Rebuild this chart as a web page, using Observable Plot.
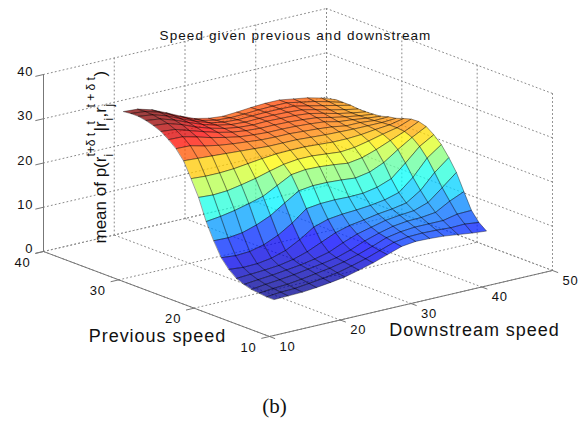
<!DOCTYPE html>
<html>
<head>
<meta charset="utf-8">
<script src="https://cdn.jsdelivr.net/npm/d3@7"></script>
<script src="https://cdn.jsdelivr.net/npm/@observablehq/plot@0.6"></script>
<style>
html,body{margin:0;padding:0;background:#fff}
svg{display:block}
.wide text{letter-spacing:.95px}
.tick text{letter-spacing:.9px}
.title text{letter-spacing:1.1px}
</style>
</head>
<body>
<div id="chart"></div>
<script>
// Grid of the surface
const prevSpeeds = [35,34,33,32,31,30,29,28,27,26,25,24,23,22,21,20,19,18,17,16,15];
const downSpeeds = [16,18,20,22,24,26,28,30,32,34,36,38,40,42,44,46];
// Mean speed: one array per downstream speed, listed along prevSpeeds
const zDown16 = [32.6,32.8,32.8,32.5,32.0,31.3,30.1,28.7,26.6,23.2,19.6,14.8,11.1,7.9,5.9,4.5,3.8,3.3,3.1,2.9,2.9];
const zDown18 = [32.4,32.5,32.4,32.1,31.7,31.0,30.0,28.6,26.4,23.0,19.4,15.2,11.0,7.6,5.6,4.7,4.1,3.7,3.4,3.2,3.0];
const zDown20 = [31.5,31.6,31.4,31.1,30.7,30.0,29.2,27.8,26.2,23.0,19.6,15.8,11.4,7.8,5.7,4.9,4.4,4.0,3.6,3.3,3.1];
const zDown22 = [30.1,30.1,30.0,29.8,29.4,29.0,28.3,27.2,26.0,23.2,20.2,16.6,12.4,8.6,6.2,5.2,4.8,4.4,4.0,3.7,3.4];
const zDown24 = [28.6,28.7,28.7,28.6,28.4,28.1,27.6,26.8,25.8,23.6,20.9,17.5,13.8,10.0,7.2,5.8,5.2,4.9,4.5,4.1,3.8];
const zDown26 = [27.3,27.5,27.6,27.7,27.6,27.4,27.0,26.5,25.6,24.0,21.8,19.2,15.9,12.0,8.9,6.8,5.8,5.4,5.0,4.6,4.3];
const zDown28 = [26.6,26.8,27.0,27.1,27.1,27.0,26.7,26.2,25.4,24.3,22.6,20.9,17.9,14.5,11.0,8.2,6.6,6.0,5.7,5.4,5.1];
const zDown30 = [26.3,26.6,26.8,26.9,26.9,26.8,26.5,26.1,25.4,24.4,23.0,21.3,18.3,14.9,12.0,9.6,8.0,7.0,6.6,6.3,6.0];
const zDown32 = [26.5,26.7,26.9,27.0,27.0,26.8,26.5,26.1,25.4,24.4,23.0,21.2,18.3,15.0,12.4,10.5,9.2,8.3,7.7,7.4,7.1];
const zDown34 = [26.8,26.9,27.0,27.0,26.9,26.7,26.4,25.9,25.2,24.2,22.7,20.9,18.1,14.9,12.6,11.0,10.0,9.3,8.9,8.5,8.2];
const zDown36 = [27.0,27.0,27.0,26.9,26.8,26.5,26.2,25.7,25.0,24.0,22.4,20.5,17.8,15.0,12.9,11.6,10.8,10.1,9.5,9.0,8.6];
const zDown38 = [27.0,27.0,26.9,26.7,26.5,26.2,25.9,25.4,24.9,24.0,22.7,21.0,18.4,15.6,13.4,12.0,11.2,10.5,9.8,9.1,8.5];
const zDown40 = [26.5,26.4,26.2,26.0,25.8,25.5,25.2,24.9,24.8,24.2,23.4,22.1,19.8,16.8,14.3,12.6,11.5,10.6,9.8,9.0,8.3];
const zDown42 = [26.0,25.8,25.5,25.2,25.0,24.9,24.9,24.9,24.8,24.6,24.2,23.4,22.0,19.6,17.0,14.7,12.6,11.0,9.8,8.8,7.9];
const zDown44 = [25.2,25.0,24.8,24.5,24.4,24.4,24.5,24.6,24.8,24.9,24.9,24.7,24.0,22.6,20.6,18.0,15.2,12.8,10.5,8.9,7.5];
const zDown46 = [24.1,24.1,24.1,23.9,23.9,24.0,24.2,24.7,25.0,25.6,26.1,26.2,25.7,24.5,22.9,20.6,17.9,14.2,10.6,8.5,7.2];
const zColumns = [zDown16,zDown18,zDown20,zDown22,zDown24,zDown26,zDown28,zDown30,zDown32,zDown34,zDown36,zDown38,zDown40,zDown42,zDown44,zDown46];

// Axes
const downTicks = [10,20,30,40,50];
const prevTicks = [10,20,30,40];
const zTicks = [0,10,20,30,40];
const downRange = [10,50], prevRange = [10,40], zRange = [0,40];

// Orthographic view of the box: screen position of its corners and height
const view = {x0:43, y0:251, xDown:283, yDown:-66, xPrev:226, yPrev:85, yZ:-177};
function project(down, prev, z) {
  const u = (down-downRange[0])/(downRange[1]-downRange[0]);
  const v = (prevRange[1]-prev)/(prevRange[1]-prevRange[0]);
  const w = (z-zRange[0])/(zRange[1]-zRange[0]);
  return {x:view.x0+view.xDown*u+view.xPrev*v, y:view.y0+view.yDown*u+view.yPrev*v+view.yZ*w};
}
const seg = (id,a,b) => [{id,...project(...a)},{id,...project(...b)}];

// Dotted grid on the floor and two back walls
const [d0,d1]=downRange,[p0,p1]=prevRange,[z0,z1]=zRange;
let grid = [];
downTicks.forEach(d=>{
  grid.push(...seg("fd"+d,[d,p0,z0],[d,p1,z0]));
  grid.push(...seg("wd"+d,[d,p1,z0],[d,p1,z1]));
});
prevTicks.forEach(p=>{
  grid.push(...seg("fp"+p,[d0,p,z0],[d1,p,z0]));
  grid.push(...seg("wp"+p,[d1,p,z0],[d1,p,z1]));
});
zTicks.forEach(z=>{
  grid.push(...seg("zb"+z,[d0,p1,z],[d1,p1,z]));
  grid.push(...seg("zr"+z,[d1,p1,z],[d1,p0,z]));
});

// Solid axes and ticks
let axes = [
  ...seg("a1",[d0,p1,z0],[d0,p0,z0]),
  ...seg("a2",[d0,p0,z0],[d1,p0,z0]),
  ...seg("a3",[d0,p1,z0],[d0,p1,z1])
];
zTicks.forEach(z=>axes.push(...seg("tz"+z,[d0,p1,z],[d0-1.1,p1,z])));
prevTicks.forEach(p=>axes.push(...seg("tp"+p,[d0,p,z0],[d0-1.1,p,z0])));
downTicks.forEach(d=>axes.push(...seg("td"+d,[d,p0,z0],[d,p0-0.7,z0])));

// Surface cells, back to front; each cell takes the colour of its low-prev, low-down vertex
let cells = [];
prevSpeeds.slice(0,-1).forEach((prev,i)=>{
  for (let j=downSpeeds.length-2;j>=0;j--) {
    const id = i+"_"+j;
    const c = zColumns[j][i+1];
    [[i,j],[i,j+1],[i+1,j+1],[i+1,j]].forEach(([a,b])=>{
      cells.push({id,c,...project(downSpeeds[b],prevSpeeds[a],zColumns[b][a])});
    });
  }
});
const zExtent = d3.extent(zColumns.flat());
const jetStops = [0,1/8,3/8,5/8,7/8,1];
const jetColors = ["#000090","#0000ff","#00ffff","#ffff00","#ff0000","#800000"];

// Y-axis label pieces, reading upward
const sans = "Liberation Sans, Arial, Helvetica, sans-serif";
const yLabelMain = [
  {t:"mean of p(r", x:105, y:243},
  {t:"|r", x:105, y:131},
  {t:",r", x:105, y:117},
  {t:")", x:105, y:76}
];
const yLabelSmall = [
  {t:"t+δ t", x:94, y:156},
  {t:"t", x:94, y:124},
  {t:"t + δ t", x:94, y:107},
  {t:"i", x:112, y:156},
  {t:"i", x:112, y:120},
  {t:"j", x:112, y:106}
];

const tickLabel = (data,opts)=>Plot.text(data,{fontFamily:sans,fontSize:13,className:"tick",fill:"#111",...opts});

const plot = Plot.plot({
  width:583, height:422,
  marginTop:0, marginRight:0, marginBottom:0, marginLeft:0,
  x:{domain:[0,583], axis:null},
  y:{domain:[422,0], axis:null},
  color:{type:"linear", domain:jetStops.map(t=>zExtent[0]+t*(zExtent[1]-zExtent[0])), range:jetColors, interpolate:"rgb", legend:false},
  marks:[
    Plot.line(grid,{x:"x",y:"y",z:"id",stroke:"#8a8a8a",strokeWidth:1,strokeDasharray:"1 3"}),
    Plot.line(axes,{x:"x",y:"y",z:"id",stroke:"#777",strokeWidth:1}),
    Plot.line(cells,{x:"x",y:"y",z:"id",fill:"c",curve:"linear-closed",fillOpacity:0.75,stroke:"#000",strokeOpacity:0.55,strokeWidth:0.7}),
    tickLabel(zTicks,{x:z=>project(d0,p1,z).x,y:z=>project(d0,p1,z).y,text:String,dx:-10,dy:-2.5,textAnchor:"end"}),
    tickLabel(prevTicks,{x:p=>project(d0,p,z0).x,y:p=>project(d0,p,z0).y,text:String,dx:-21,dy:11}),
    tickLabel(downTicks,{x:d=>project(d,p0,z0).x,y:d=>project(d,p0,z0).y,text:String,dx:18,dy:10}),
    Plot.text(["Speed given previous and downstream"],{x:()=>295,y:()=>35,text:String,fontFamily:sans,fontSize:13.5,className:"title",fill:"#111"}),
    Plot.text(["Previous speed"],{x:()=>157,y:()=>336,text:String,fontFamily:sans,fontSize:18,className:"wide",fill:"#111"}),
    Plot.text(["Downstream speed"],{x:()=>474,y:()=>330,text:String,fontFamily:sans,fontSize:18,className:"wide",fill:"#111"}),
    Plot.text(yLabelMain,{x:"x",y:"y",text:"t",rotate:-90,textAnchor:"start",lineAnchor:"bottom",fontFamily:sans,fontSize:17,fill:"#111"}),
    Plot.text(yLabelSmall,{x:"x",y:"y",text:"t",rotate:-90,textAnchor:"start",lineAnchor:"bottom",fontFamily:sans,fontSize:12,fill:"#111"}),
    Plot.text(["(b)"],{x:()=>274,y:()=>406,text:String,fontFamily:"Liberation Serif, Times New Roman, serif",fontSize:21,fill:"#111"})
  ]
});
document.getElementById("chart").append(plot);
</script>
</body>
</html>
